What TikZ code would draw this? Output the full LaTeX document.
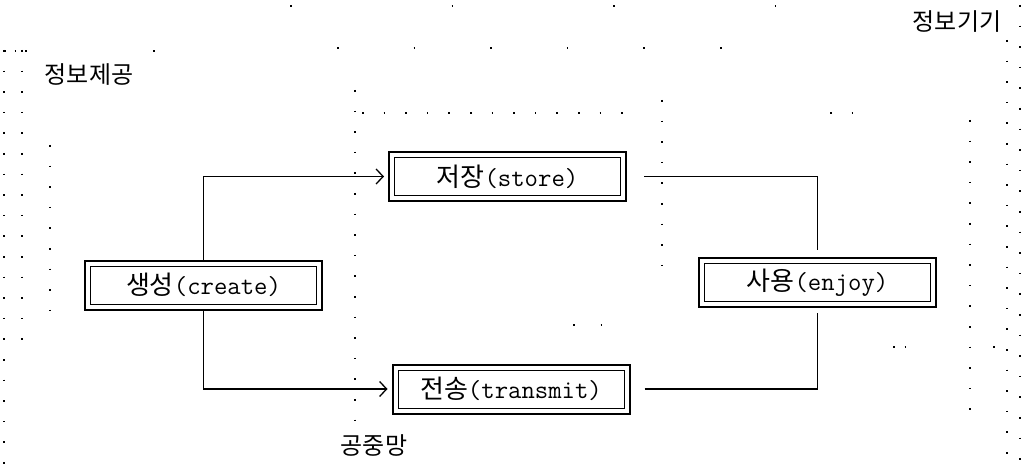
\documentclass[tikz,border=0pt]{standalone}
\usepackage{fontspec}
\newfontfamily\kr{Noto Sans CJK KR}
\usetikzlibrary{arrows.meta}
\begin{document}
\begin{tikzpicture}[x=1pt,y=-1pt,
  procbox/.style={draw, line width=1pt, minimum width=226pt, minimum height=38pt, inner sep=0pt, fill=white},
  outerframe/.style={draw, line width=2pt},
  conn/.style={draw, line width=1.3pt},
  arr/.style={-{Straight Barb[length=7pt,width=15pt,line width=1.3pt]}},
  dotline/.style={line width=1.4pt, dash pattern=on 1.6pt off 19pt},
  region/.style={font=\kr\fontsize{24}{26}\selectfont, inner sep=0pt},
  boxtext/.style={font=\fontsize{26}{28}\selectfont}
]
\useasboundingbox (0,0) rectangle (1029,468);
% faint dotted region borders (degraded scan)
\draw[dotline] (4,50) -- (4,468);
\draw[dotline] (22,50) -- (22,340);
\draw[dotline] (50,145) -- (50,330);
\draw[dotline, dash pattern=on 1.6pt off 9pt] (4,51) -- (34,51);
\draw[dotline, dash pattern=on 1.6pt off 160pt] (153,51) -- (160,51);
\draw[dotline, dash pattern=on 1.6pt off 160pt] (290,6) -- (920,6);
\draw[dotline, dash pattern=on 1.6pt off 75pt] (337,48) -- (780,48);
\draw[dotline] (355,90) -- (355,425);
\draw[dotline, dash pattern=on 1.6pt off 20pt] (362,113) -- (625,113);
\draw[dotline, dash pattern=on 1.6pt off 20pt] (830,113) -- (852,113);
\draw[dotline] (662,100) -- (662,275);
\draw[dotline] (970,120) -- (970,420);
\draw[dotline] (1007,40) -- (1007,468);
\draw[dotline] (1020,5) -- (1020,468);
\draw[dotline, dash pattern=on 1.6pt off 26pt] (573,325) -- (605,325);
\draw[dotline, dash pattern=on 1.6pt off 10pt] (893,347) -- (905,347);
\draw[dotline] (993,347) -- (1000,347);

% region labels
\node[region] (lprov) at (89,75) {정보제공};
\node[region] (ldev) at (957,22) {정보기기};
\node[region] (lnet) at (374,445) {공중망};

% process boxes
\node[procbox, boxtext] (create) at (203.5,285) {{\kr 생성}\texttt{(create)}};
\node[procbox, boxtext] (store) at (507.5,176.5) {{\kr 저장}\texttt{(store)}};
\node[procbox, boxtext] (transmit) at (511,389) {{\kr 전송}\texttt{(transmit)}};
\node[procbox, boxtext] (enjoy) at (817.5,282.5) {{\kr 사용}\texttt{(enjoy)}};
\foreach \n in {create,store,transmit,enjoy}{
  \draw[outerframe] ([shift={(-5pt,-5pt)}]\n.south west) rectangle ([shift={(5pt,5pt)}]\n.north east);
}

% connectors
\draw[conn, arr, shorten <=5pt, shorten >=10pt] (create.north) |- (store.west);
\draw[conn, arr, shorten <=5pt, shorten >=10pt] (create.south) |- (transmit.west);
\draw[conn, shorten <=23pt, shorten >=13pt] (store.east) -| (enjoy.north);
\draw[conn, shorten <=20pt, shorten >=11pt] (transmit.east) -| (enjoy.south);
\end{tikzpicture}
\end{document}
